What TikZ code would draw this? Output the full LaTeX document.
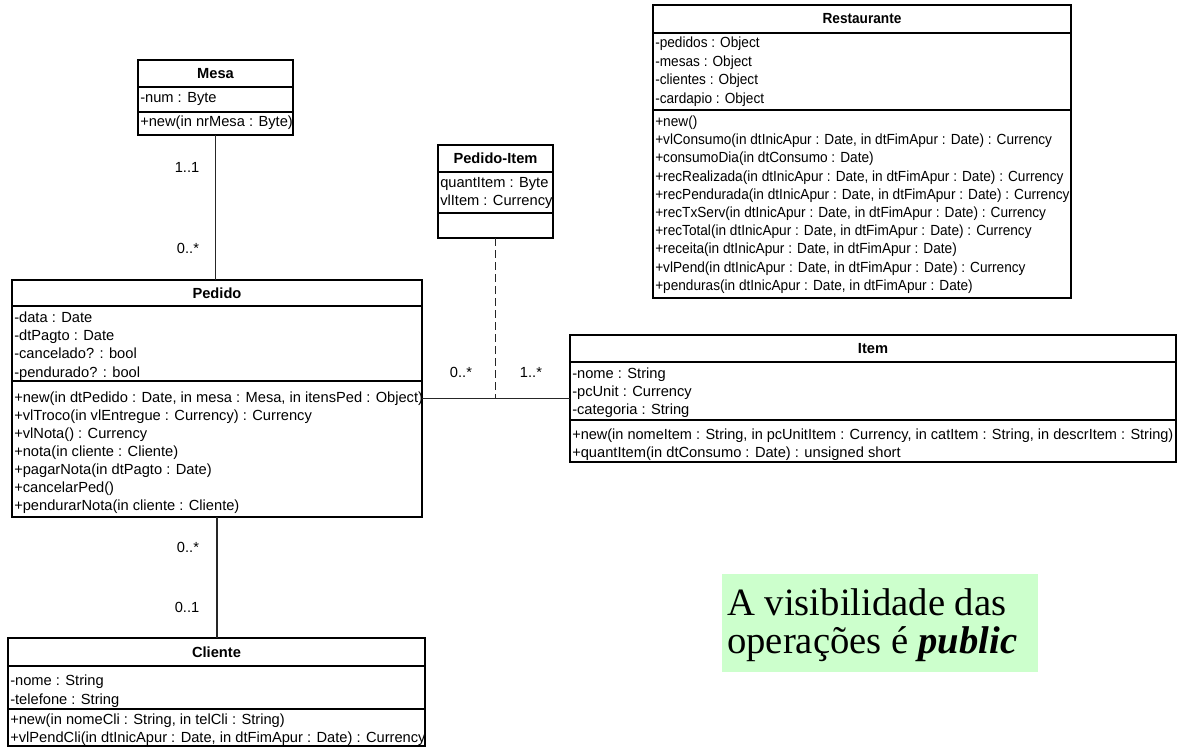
\documentclass[tikz,border=0pt]{standalone}
\usepackage{fontspec}
\setmainfont{Liberation Sans}
\newfontfamily\narrowsans[FakeStretch=0.93]{Liberation Sans}
\newfontfamily\notefont{Liberation Serif}
\usetikzlibrary{fit}
\definecolor{notegreen}{RGB}{204,255,204}
\begin{document}
\begin{tikzpicture}[x=0.75pt, y=-0.75pt,
  frame/.style={draw=black, line width=0.9pt, inner sep=0pt, outer sep=0pt},
  divider/.style={draw=black, line width=0.9pt},
  classtitle/.style={font=\fontsize{11}{13}\selectfont\bfseries, inner sep=0pt, anchor=base},
  member/.style={font=\fontsize{11}{13}\selectfont, inner sep=0pt, anchor=base west},
  narrowtitle/.style={classtitle, font=\narrowsans\fontsize{11}{13}\selectfont\bfseries},
  narrowmember/.style={member, font=\narrowsans\fontsize{11}{13}\selectfont},
  mult/.style={font=\fontsize{11}{13}\selectfont, inner sep=0pt, anchor=base},
  assoc/.style={draw=black!85, line width=0.8pt},
  assocclass/.style={assoc, dash pattern=on 6pt off 3pt},
  notebox/.style={fill=notegreen, draw=none, inner sep=0pt, outer sep=0pt},
  notetext/.style={font=\notefont\fontsize{29}{31}\selectfont, inner sep=0pt, anchor=base west}
]
\useasboundingbox (0,0) rectangle (1179,747);

% ---------- Mesa ----------
\node[frame, fit={(138,60) (293,135)}] (mesa) {};
\draw[divider] (138,87) -- (293,87);
\draw[divider] (138,112) -- (293,112);
\node[classtitle] (mesa-t) at (215.5,78.5) {Mesa};
\node[member] (mesa-a0) at (140,102.5) {-num : Byte};
\node[member] (mesa-o0) at (140,126.5) {+new(in nrMesa : Byte)};

% ---------- Restaurante ----------
\node[frame, fit={(653,5) (1071,298)}] (rest) {};
\draw[divider] (653,33) -- (1071,33);
\draw[divider] (653,110) -- (1071,110);
\node[narrowtitle] (rest-t) at (862,23.5) {Restaurante};
\foreach \m [count=\i from 0] in {{-pedidos : Object},{-mesas : Object},{-clientes : Object},{-cardapio : Object}}
  \node[narrowmember] (rest-a\i) at ({655},{47.5+\i*18.7}) {\m};
\foreach \m [count=\i from 0] in {
  {+new()},
  {+vlConsumo(in dtInicApur : Date, in dtFimApur : Date) : Currency},
  {+consumoDia(in dtConsumo : Date)},
  {+recRealizada(in dtInicApur : Date, in dtFimApur : Date) : Currency},
  {+recPendurada(in dtInicApur : Date, in dtFimApur : Date) : Currency},
  {+recTxServ(in dtInicApur : Date, in dtFimApur : Date) : Currency},
  {+recTotal(in dtInicApur : Date, in dtFimApur : Date) : Currency},
  {+receita(in dtInicApur : Date, in dtFimApur : Date)},
  {+vlPend(in dtInicApur : Date, in dtFimApur : Date) : Currency},
  {+penduras(in dtInicApur : Date, in dtFimApur : Date)}}
  \node[narrowmember] (rest-o\i) at ({655},{126.5+\i*18.2}) {\m};

% ---------- Pedido-Item ----------
\node[frame, fit={(438,145) (553,238)}] (pi) {};
\draw[divider] (438,172) -- (553,172);
\draw[divider] (438,213) -- (553,213);
\node[classtitle] (pi-t) at (495.5,163.5) {Pedido-Item};
\node[member] (pi-a0) at (440,187.5) {quantItem : Byte};
\node[member] (pi-a1) at (440,205.5) {vlItem : Currency};

% ---------- Pedido ----------
\node[frame, fit={(12,280) (422,517)}] (pedido) {};
\draw[divider] (12,306) -- (422,306);
\draw[divider] (12,381) -- (422,381);
\node[classtitle] (pedido-t) at (217,298.5) {Pedido};
\foreach \m [count=\i from 0] in {{-data : Date},{-dtPagto : Date},{-cancelado? : bool},{-pendurado? : bool}}
  \node[member] (pedido-a\i) at ({14},{322.5+\i*18.2}) {\m};
\foreach \m [count=\i from 0] in {
  {+new(in dtPedido : Date, in mesa : Mesa, in itensPed : Object)},
  {+vlTroco(in vlEntregue : Currency) : Currency},
  {+vlNota() : Currency},
  {+nota(in cliente : Cliente)},
  {+pagarNota(in dtPagto : Date)},
  {+cancelarPed()},
  {+pendurarNota(in cliente : Cliente)}}
  \node[member] (pedido-o\i) at ({14},{402.5+\i*18}) {\m};

% ---------- Item ----------
\node[frame, fit={(570,335) (1176,462)}] (item) {};
\draw[divider] (570,362) -- (1176,362);
\draw[divider] (570,420) -- (1176,420);
\node[classtitle] (item-t) at (873,353.5) {Item};
\foreach \m [count=\i from 0] in {{-nome : String},{-pcUnit : Currency},{-categoria : String}}
  \node[member] (item-a\i) at ({572},{378.5+\i*18}) {\m};
\node[member, font=\addfontfeature{FakeStretch=0.99}\fontsize{11}{13}\selectfont] (item-o0) at (572,439.5) {+new(in nomeItem : String, in pcUnitItem : Currency, in catItem : String, in descrItem : String)};
\node[member] (item-o1) at (572,457.5) {+quantItem(in dtConsumo : Date) : unsigned short};

% ---------- Cliente ----------
\node[frame, fit={(8,638) (425,746)}] (cliente) {};
\draw[divider] (8,666) -- (425,666);
\draw[divider] (8,709) -- (425,709);
\node[classtitle] (cliente-t) at (216.5,657.5) {Cliente};
\node[member] (cliente-a0) at (10,685.5) {-nome : String};
\node[member] (cliente-a1) at (10,704) {-telefone : String};
\node[member] (cliente-o0) at (10,724.5) {+new(in nomeCli : String, in telCli : String)};
\node[member] (cliente-o1) at (10,742) {+vlPendCli(in dtInicApur : Date, in dtFimApur : Date) : Currency};

% ---------- associations ----------
\draw[assoc] (mesa.south) -- (mesa.south |- pedido.north);
\draw[assoc] (pedido.south) -- (pedido.south |- cliente.north);
\draw[assoc] (pedido.east) -- (item.west);
\draw[assocclass] (pi.south) -- (pi.south |- pedido.east);

% multiplicities
\node[mult] (m-mesa) at (187,172.5) {1..1};
\node[mult] (m-pedmesa) at (188,253.5) {0..*};
\node[mult] (m-pedcli) at (188,552.5) {0..*};
\node[mult] (m-cli) at (187,612.5) {0..1};
\node[mult] (m-peditem) at (461,377.5) {0..*};
\node[mult] (m-item) at (531,377.5) {1..*};

% ---------- note ----------
\node[notebox, fit={(722,574) (1038,672)}] (note) {};
\node[notetext] (note-l1) at (727,615) {A visibilidade das};
\node[notetext] (note-l2) at (727,653) {operações é \textbf{\textit{public}}};
\end{tikzpicture}
\end{document}
